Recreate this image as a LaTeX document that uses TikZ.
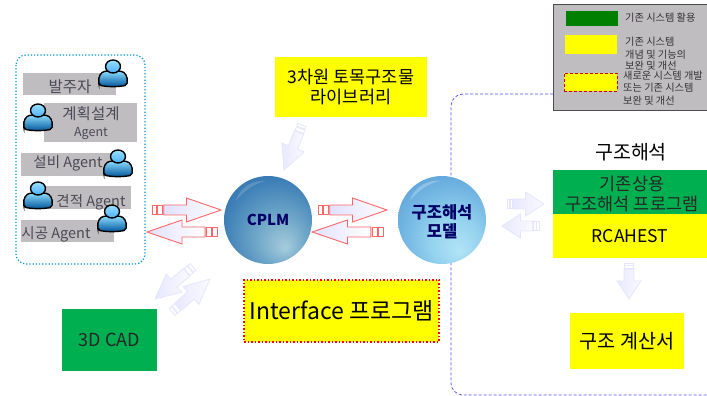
\documentclass[tikz,border=0pt]{standalone}
\usepackage{fontspec}
\setmainfont{Noto Sans CJK KR}
\usetikzlibrary{calc,shadings}
\definecolor{lgray}{HTML}{C0BDC1}
\definecolor{ygr}{HTML}{FFFF00}
\definecolor{grn}{HTML}{00B050}
\definecolor{agenttxt}{HTML}{4A4A55}
\definecolor{cplmA}{HTML}{A6CCDD}\definecolor{cplmB}{HTML}{6FA7C8}
\definecolor{cplmC}{HTML}{3B7DB6}\definecolor{cplmD}{HTML}{2C6AA0}
\definecolor{modelA}{HTML}{B2E4F6}\definecolor{modelB}{HTML}{94D2EE}
\definecolor{modelC}{HTML}{5FA5DC}\definecolor{modelD}{HTML}{4A8CCB}
\pgfdeclareradialshading{cplmball}{\pgfpoint{10bp}{-16bp}}{
  color(0bp)=(cplmA); color(14bp)=(cplmB); color(30bp)=(cplmC); color(50bp)=(cplmD)}
\pgfdeclareradialshading{modelball}{\pgfpoint{10bp}{-18bp}}{
  color(0bp)=(modelA); color(14bp)=(modelB); color(34bp)=(modelC); color(50bp)=(modelD)}
\tikzset{
  ybox/.style={fill=ygr,draw=none,inner sep=0pt,align=center,text=black},
  gbox/.style={fill=lgray,draw=none},
  agentlabel/.style={text=agenttxt,font=\fontsize{14.5}{16}\selectfont,inner sep=0pt,align=center},
  legtext/.style={anchor=west,inner sep=0pt,text=black!80,font=\fontsize{10.2}{11}\selectfont},
  redarrow/.style={draw=red!60!white,line width=.9pt},
  redhead/.style={left color=blue!12!white,right color=white},
  paledraw/.style={draw=blue!10!white,line width=.8pt},
  palehead/.style={left color=blue!9!white,right color=blue!2!white},
  person/.pic={
    \draw[line width=1.4pt,black,top color=blue!30!cyan!45!white,bottom color=blue!45!cyan!60!black,rounded corners=2pt]
      (-14,-12) .. controls (-15,-3) and (-12,1) .. (-6,2)
      -- (6,2) .. controls (12,1) and (15,-3) .. (14,-12)
      .. controls (6,-14) and (-6,-14) .. cycle;
    \draw[line width=1.4pt,black,top color=blue!30!cyan!40!white,bottom color=blue!45!cyan!70!white]
      (0,6.5) ellipse (7.5 and 6.5);
  }
}
\newcommand\blockarrow[5]{% tail, tip, outline style, head style, head half
  \pgfpointdiff{\pgfpointanchor{#1}{center}}{\pgfpointanchor{#2}{center}}%
  \pgfgetlastxy\adx\ady
  \pgfmathsetmacro\alen{veclen(\adx,\ady)}%
  \pgfmathsetmacro\aang{atan2(\ady,\adx)}%
  \pgfmathsetmacro\ahb{\alen*0.5}%
  \pgfmathsetmacro\asa{\alen*0.06}%
  \pgfmathsetmacro\asb{\alen*0.08}%
  \pgfmathsetmacro\asc{\alen*0.15}%
  \pgfmathsetmacro\asd{\alen*0.17}%
  \begin{scope}[shift={(#1)},rotate=\aang]
    \path[#3,fill=white] (0,-4.5) rectangle (\asa,4.5);
    \path[#3,fill=white] (\asb,-4.5) rectangle (\asc,4.5);
    \path[#3,#4] (\asd,-5) -- (\ahb,-5) -- (\ahb,-#5) -- (\alen,0) -- (\ahb,#5) -- (\ahb,5) -- (\asd,5) -- cycle;
  \end{scope}}
\begin{document}
\begin{tikzpicture}[x=1pt,y=1pt]
\useasboundingbox (0,0) rectangle (707,396);
% left agent panel
\draw[blue!30!cyan!85!black,line width=1.2pt,dotted,rounded corners=10pt] (16,341) rectangle (145,132);
\node[gbox,minimum width=93pt,minimum height=22pt,inner sep=0pt] (g1) at (69.5,312) {};
\node[gbox,minimum width=93pt,minimum height=39pt,inner sep=0pt] (g2) at (90.5,273.5) {};
\node[gbox,minimum width=93pt,minimum height=23pt,inner sep=0pt] (g3) at (67.5,231.5) {};
\node[gbox,minimum width=93pt,minimum height=23pt,inner sep=0pt] (g4) at (84.5,198.5) {};
\node[gbox,minimum width=93pt,minimum height=22pt,inner sep=0pt] (g5) at (67.5,165) {};
\node[agentlabel,font=\fontsize{15.5}{17}\selectfont] (t1) at (70,309) {발주자};
\node[agentlabel,font=\fontsize{15.5}{17}\selectfont] (t2) at (91,273) {계획설계\\{\fontsize{12.5}{14}\selectfont Agent}};
\node[agentlabel] (t3) at (68,233) {설비 Agent};
\node[agentlabel] (t4) at (91,194) {견적 Agent};
\node[agentlabel] (t5) at (56,162) {시공 Agent};
\pic at (113,323) {person};
\pic at (38,279) {person};
\pic at (118,233) {person};
\pic at (38,201) {person};
\pic at (112,178) {person};
% purple dashed region
\draw[blue!70!white,line width=.7pt,densely dashed,rounded corners=12pt] (553,302) -- (451,302) -- (451,1) -- (720,1);
% legend
\node[fill=lgray,draw=black!70,line width=.8pt,minimum width=160pt,minimum height=106pt,inner sep=0pt,anchor=north west] (legend) at (553,392) {};
\node[fill=green!50!black,minimum width=52pt,minimum height=15pt,inner sep=0pt] (s1) at (592,377.5) {};
\node[fill=ygr,minimum width=52pt,minimum height=19pt,inner sep=0pt] (s2) at (591,351.5) {};
\node[fill=ygr,draw=red!80!black,densely dashed,line width=.8pt,minimum width=53pt,minimum height=18pt,inner sep=0pt] (s3) at (590.5,314) {};
\node[legtext] at (625,378) {기존 시스템 활용};
\node[legtext] at (625,354) {기존 시스템};
\node[legtext] at (625,341) {개념 및 기능의};
\node[legtext] at (625,330) {보완 및 개선};
\node[legtext] at (623,320) {새로운 시스템 개발};
\node[legtext] at (623,308) {또는 기존 시스템};
\node[legtext] at (623,295) {보완 및 개선};
% yellow / green boxes
\node[ybox,minimum width=152pt,minimum height=60pt,font=\fontsize{17.5}{20}\selectfont] (lib) at (351,309) {3차원 토목구조물\\라이브러리};
\node[ybox,draw=red,line width=1.5pt,dotted,minimum width=195pt,minimum height=62pt,font=\fontsize{23}{26}\selectfont] (iface) at (341.5,85) {\raisebox{2pt}{Interface 프로그램}};
\node[fill=grn,minimum width=95pt,minimum height=62pt,inner sep=0pt,font=\fontsize{18}{20}\selectfont,text=black!85] (cad) at (109.5,56) {3D CAD};
\node[inner sep=0pt,font=\fontsize{19.5}{22}\selectfont] (ttl) at (631,244) {구조해석};
\node[fill=grn,minimum width=154pt,minimum height=44pt,inner sep=0pt] (exist) at (630,204) {};
\node[inner sep=0pt,align=center,font=\fontsize{17.5}{20}\selectfont,text=black!85] (existt) at (632,202) {기존상용\\구조해석 프로그램};
\node[ybox,minimum width=154pt,minimum height=44pt,font=\fontsize{17.5}{20}\selectfont] (rc) at (630,160) {RCAHEST};
\node[ybox,minimum width=114pt,minimum height=56pt,font=\fontsize{19.6}{22}\selectfont] (calc) at (627,55) {구조 계산서};
% spheres
\node[circle,minimum size=88pt,inner sep=0pt,shading=cplmball] (cplm) at (268,176) {};
\fill[white,opacity=.16] (236,196) .. controls (242,212) and (256,216) .. (266,215) .. controls (252,212) and (244,204) .. cycle;
\node[inner sep=0pt,font=\fontsize{15}{17}\bfseries\selectfont,text=blue!40!black] at (cplm) {CPLM};
\node[circle,minimum size=88pt,inner sep=0pt,shading=modelball] (model) at (442,176) {};
\fill[white,opacity=.25] (410,196) .. controls (416,212) and (430,216) .. (440,215) .. controls (426,212) and (418,204) .. cycle;
\node[inner sep=0pt,align=center,font=\fontsize{16.5}{19}\bfseries\selectfont,text=blue!40!black] at (442,174) {구조해석\\모델};
% arrow end points
\coordinate (a1t) at (152,186); \coordinate (a1h) at (221,186);
\coordinate (a2t) at (217,164); \coordinate (a2h) at (147,164);
\coordinate (a3t) at (318,186); \coordinate (a3h) at (387,186);
\coordinate (a4t) at (383,164); \coordinate (a4h) at (312,164);
\coordinate (p1t) at (302,271); \coordinate (p1h) at (284,226);
\coordinate (p2t) at (193,129); \coordinate (p2h) at (155,97);
\coordinate (p3t) at (172,84); \coordinate (p3h) at (210,117);
\coordinate (p4t) at (507,192); \coordinate (p4h) at (544,192);
\coordinate (p5t) at (539,170); \coordinate (p5h) at (502,170);
\coordinate (p6t) at (629,133); \coordinate (p6h) at (629,97);
\blockarrow{a1t}{a1h}{redarrow}{redhead}{12}
\blockarrow{a2t}{a2h}{redarrow}{redhead}{12}
\blockarrow{a3t}{a3h}{redarrow}{redhead}{12}
\blockarrow{a4t}{a4h}{redarrow}{redhead}{12}
\blockarrow{p1t}{p1h}{paledraw}{palehead}{12}
\blockarrow{p2t}{p2h}{paledraw}{palehead}{12}
\blockarrow{p3t}{p3h}{paledraw}{palehead}{12}
\blockarrow{p4t}{p4h}{paledraw}{palehead}{12}
\blockarrow{p5t}{p5h}{paledraw}{palehead}{12}
\blockarrow{p6t}{p6h}{paledraw}{palehead}{12}
\end{tikzpicture}
\end{document}
